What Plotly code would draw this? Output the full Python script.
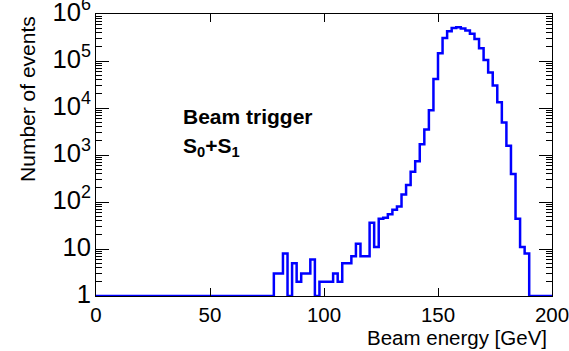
import plotly.graph_objects as go

# 2 GeV bins from 0 to 200 GeV; empty bins drawn at the axis floor (1)
bin_width = 2.0
bin_low = 0.0
counts = [1] * 39 + [
    3, 3, 8, 1, 5, 2, 3, 3, 6, 1,          # 78 - 98
    2, 2, 2, 3, 2, 5, 5, 7, 13, 7,         # 98 - 118
    7, 36, 11, 44, 46, 55, 68, 80, 145, 230,   # 118 - 138
    440, 740, 1700, 3500, 9000, 41500, 146000, 310000, 430000, 505000,  # 138 - 158
    520000, 490000, 445000, 380000, 295000, 187000, 105000, 57000, 30000, 13200,  # 158 - 178
    4900, 1580, 395, 44, 11, 8,            # 178 - 190
] + [1] * 5

x_title = "Beam energy [GeV]"
y_title = "Number of events"
label_line1 = "<b>Beam trigger</b>"
label_line2 = "<b>S<sub>0</sub>+S<sub>1</sub></b>"

edges = [bin_low + i * bin_width for i in range(len(counts) + 1)]
xs = edges[:-1] + [edges[-1]]
ys = counts + [counts[-1]]

# minor log tick positions (2..9 x 10^k)
minor_vals = [m * 10 ** k for k in range(6) for m in range(2, 10)]

FONT = "Liberation Sans, Arial, sans-serif"

fig = go.Figure()
fig.add_trace(go.Scatter(
    x=xs, y=ys, mode="lines", line=dict(shape="hv", color="#0000ff", width=2.5),
    showlegend=False, hoverinfo="skip",
))
# helper trace so the minor-tick axis is drawn
fig.add_trace(go.Scatter(x=[0], y=[1], yaxis="y2", mode="lines",
                         line=dict(width=0), showlegend=False, hoverinfo="skip"))

fig.update_layout(
    width=569, height=351,
    margin=dict(l=96, r=17, t=14, b=55, autoexpand=False),
    paper_bgcolor="white", plot_bgcolor="white",
    font=dict(family=FONT, size=20, color="black"),
    xaxis=dict(
        range=[0, 200], showgrid=False, zeroline=False, automargin=False,
        showline=True, linecolor="black", linewidth=1, mirror="ticks",
        ticks="inside", ticklen=8, tickcolor="black", tickwidth=1,
        tick0=0, dtick=50, tickfont=dict(size=20.5, family=FONT),
        ticklabeloverflow="allow",
    ),
    yaxis=dict(
        type="log", range=[0, 6], showgrid=False, zeroline=False,
        automargin=False, showline=True, linecolor="black",
        linewidth=1, mirror="ticks", ticks="inside", ticklen=13,
        tickcolor="black", tickwidth=1, dtick=1,
        exponentformat="power", tickfont=dict(size=20.5, family=FONT),
        ticklabeloverflow="allow", ticklabelshift=-2,
    ),
    yaxis2=dict(type="log", range=[0, 6], overlaying="y", side="left",
                showgrid=False, zeroline=False, showline=False,
                tickmode="array", tickvals=minor_vals, showticklabels=False,
                ticks="inside", ticklen=6, tickcolor="black", tickwidth=1,
                mirror="ticks", automargin=False),
)

fig.add_annotation(text=y_title, xref="paper", yref="paper", x=-0.149, y=0.699,
                   xanchor="center", yanchor="middle", textangle=-90,
                   showarrow=False, font=dict(size=21, family=FONT))
fig.add_annotation(text=x_title, xref="paper", yref="paper", x=0.993, y=-0.147,
                   xanchor="right", yanchor="middle",
                   showarrow=False, font=dict(size=20.5, family=FONT))
fig.add_annotation(text=label_line1, xref="paper", yref="paper", x=0.186, y=0.635,
                   xanchor="left", yanchor="middle",
                   showarrow=False, font=dict(size=21, family=FONT))
fig.add_annotation(text=label_line2, xref="paper", yref="paper", x=0.186, y=0.53,
                   xanchor="left", yanchor="middle",
                   showarrow=False, font=dict(size=21, family=FONT))

fig.write_html("out.html")
